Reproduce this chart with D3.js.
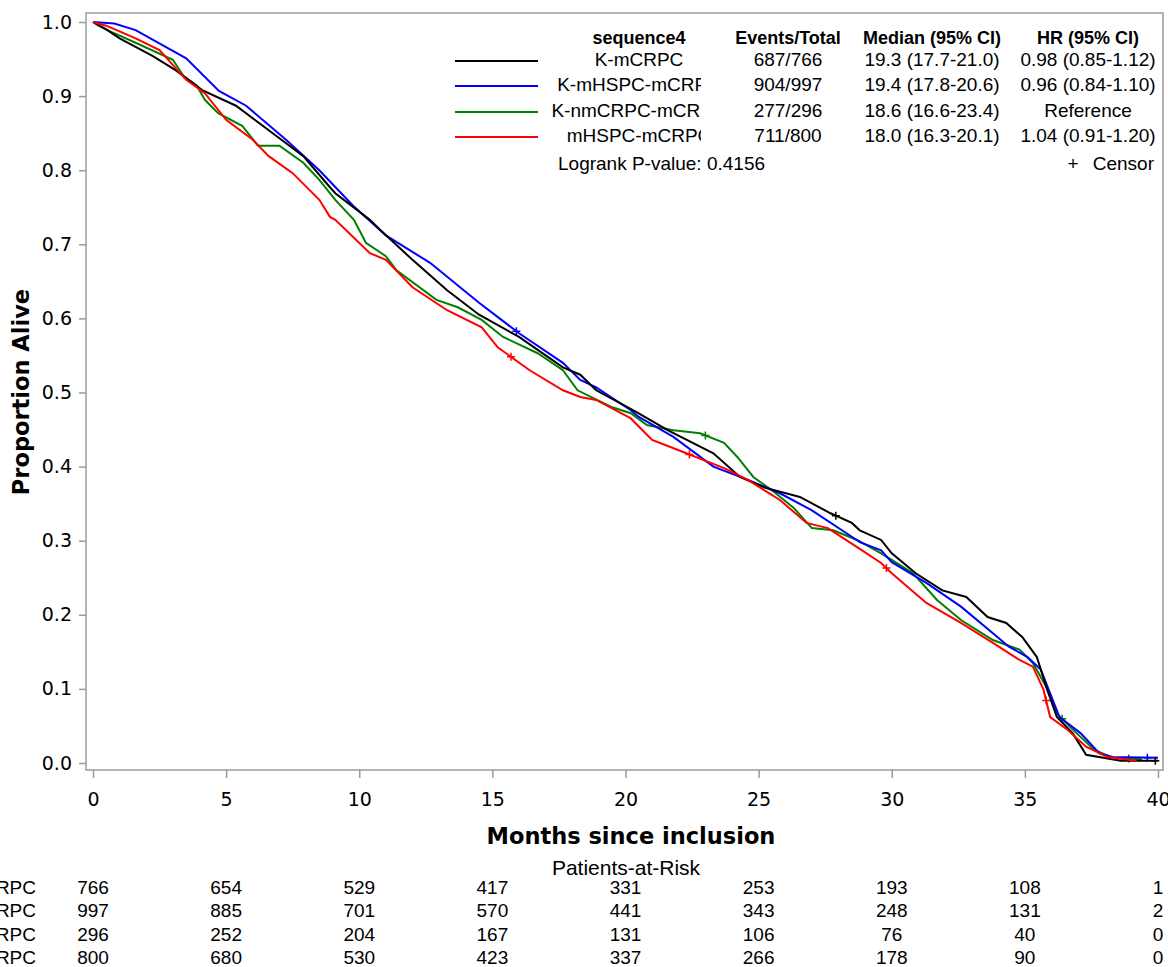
<!DOCTYPE html>
<html>
<head>
<meta charset="utf-8">
<script src="https://cdn.jsdelivr.net/npm/d3@7"></script>
<style>
  body { margin: 0; background: #fff; }
  svg { display: block; }
  .tick text { font-family: "DejaVu Sans", sans-serif; font-size: 19px; fill: #000; }
  .tick line { stroke: #9a9a9a; stroke-width: 1.5; }
  .legend text, .risk text { font-family: "Liberation Sans", Arial, sans-serif; font-size: 19px; fill: #000; }
</style>
</head>
<body>
<div id="chart"></div>
<script>
// groups and summary stats (legend)
const groups = ["K-mCRPC", "K-mHSPC-mCRPC", "K-nmCRPC-mCRPC", "mHSPC-mCRPC"];
const eventsTotal = ["687/766", "904/997", "277/296", "711/800"];
const medianCI = ["19.3 (17.7-21.0)", "19.4 (17.8-20.6)", "18.6 (16.6-23.4)", "18.0 (16.3-20.1)"];
const hrCI = ["0.98 (0.85-1.12)", "0.96 (0.84-1.10)", "Reference", "1.04 (0.91-1.20)"];
const logrankP = "0.4156";

// survival curves (months, proportion alive)
const kmcrpcT = [0, 0.5, 1.0, 2.25, 3.1, 4.1, 5.37, 6.6, 7.9, 8.9, 9.1, 10.4, 10.8, 12.0, 13.3, 14.5, 16.0, 17.65, 18.3, 18.9, 20.4, 21.6, 23.3, 24.3, 25.2, 26.55, 27.7, 28.5, 28.8, 29.6, 30.0, 30.9, 31.9, 32.8, 33.6, 34.3, 34.9, 35.45, 35.8, 36.2, 36.8, 37.3, 38.6, 40];
const kmcrpcS = [1.0, 0.99, 0.978, 0.954, 0.935, 0.908, 0.887, 0.854, 0.819, 0.777, 0.769, 0.733, 0.719, 0.679, 0.638, 0.605, 0.575, 0.534, 0.524, 0.503, 0.474, 0.449, 0.418, 0.386, 0.372, 0.359, 0.337, 0.324, 0.314, 0.301, 0.283, 0.256, 0.233, 0.224, 0.197, 0.189, 0.17, 0.143, 0.103, 0.062, 0.040, 0.011, 0.003, 0.003];

const kmhspcT = [0, 0.8, 1.6, 3.5, 4.73, 5.75, 7.25, 8.5, 9.77, 11.0, 12.66, 14.5, 16.0, 17.65, 18.3, 18.9, 20.2, 20.5, 21.8, 23.3, 24.6, 25.8, 27.0, 28.3, 28.8, 29.6, 30.0, 31.3, 32.6, 33.8, 34.4, 35.1, 35.6, 35.95, 36.3, 37.1, 37.8, 38.3, 40];
const kmhspcS = [1.0, 0.998, 0.989, 0.951, 0.907, 0.887, 0.841, 0.80, 0.752, 0.712, 0.675, 0.621, 0.580, 0.540, 0.517, 0.507, 0.476, 0.467, 0.44, 0.40, 0.382, 0.364, 0.341, 0.310, 0.298, 0.287, 0.271, 0.243, 0.211, 0.175, 0.157, 0.143, 0.126, 0.094, 0.062, 0.04, 0.013, 0.008, 0.007];

const knmcrpcT = [0, 0.2, 0.6, 1.6, 3.0, 3.4, 3.9, 4.2, 4.7, 5.6, 6.2, 7.0, 7.9, 8.5, 9.1, 9.8, 10.25, 11.0, 11.4, 12.9, 13.7, 14.6, 15.4, 16.7, 17.65, 18.2, 19.5, 20.2, 20.8, 21.8, 22.8, 23.7, 24.2, 24.8, 25.5, 26.3, 27.0, 27.8, 28.7, 29.6, 30.0, 30.8, 31.7, 32.6, 33.8, 34.8, 35.3, 35.8, 36.2, 36.8, 37.6, 38.3, 39.4];
const knmcrpcS = [1.0, 0.995, 0.988, 0.972, 0.949, 0.927, 0.914, 0.895, 0.877, 0.860, 0.833, 0.833, 0.810, 0.787, 0.76, 0.733, 0.702, 0.684, 0.665, 0.625, 0.615, 0.598, 0.575, 0.553, 0.53, 0.503, 0.48, 0.472, 0.456, 0.449, 0.445, 0.432, 0.413, 0.386, 0.368, 0.345, 0.317, 0.314, 0.301, 0.283, 0.274, 0.256, 0.22, 0.193, 0.166, 0.153, 0.135, 0.103, 0.067, 0.045, 0.018, 0.007, 0.005];

const mhspcT = [0, 0.5, 1.6, 2.5, 3.5, 4.2, 5.0, 6.0, 6.6, 7.5, 8.5, 8.9, 9.1, 10.4, 11.0, 12.0, 13.3, 14.6, 15.2, 16.4, 17.65, 18.3, 18.9, 20.2, 21.0, 22.0, 23.7, 24.6, 25.8, 26.8, 27.6, 28.8, 29.6, 30.0, 31.3, 32.6, 33.8, 34.8, 35.3, 35.7, 35.95, 36.6, 37.3, 38.1, 39.2];
const mhspcS = [1.0, 0.995, 0.978, 0.962, 0.922, 0.904, 0.868, 0.841, 0.819, 0.796, 0.760, 0.737, 0.733, 0.688, 0.679, 0.642, 0.611, 0.588, 0.561, 0.530, 0.503, 0.494, 0.49, 0.465, 0.436, 0.422, 0.398, 0.382, 0.355, 0.324, 0.317, 0.289, 0.27, 0.256, 0.216, 0.189, 0.162, 0.139, 0.13, 0.099, 0.062, 0.045, 0.022, 0.008, 0.003];

// censor marks (months)
const kmcrpcCens = [27.9, 39.9];
const kmhspcCens = [15.9, 39.6];
const knmcrpcCens = [23.0, 36.4, 38.9];
const mhspcCens = [15.7, 22.4, 29.8, 35.8];

// patients at risk
const riskTimes = [0, 5, 10, 15, 20, 25, 30, 35, 40];
const riskKmcrpc = [766, 654, 529, 417, 331, 253, 193, 108, 1];
const riskKmhspc = [997, 885, 701, 570, 441, 343, 248, 131, 2];
const riskKnmcrpc = [296, 252, 204, 167, 131, 106, 76, 40, 0];
const riskMhspc = [800, 680, 530, 423, 337, 266, 178, 90, 0];

const yTicks = [0, 0.1, 0.2, 0.3, 0.4, 0.5, 0.6, 0.7, 0.8, 0.9, 1.0];
const xTicks = [0, 5, 10, 15, 20, 25, 30, 35, 40];

const colors = ["#000000", "#0000ff", "#008000", "#ff0000"];

const width = 1168, height = 967;
const frame = { left: 86, top: 13, right: 1163, bottom: 770 };

const series = [
  { t: kmcrpcT, s: kmcrpcS, cens: kmcrpcCens, risk: riskKmcrpc },
  { t: kmhspcT, s: kmhspcS, cens: kmhspcCens, risk: riskKmhspc },
  { t: knmcrpcT, s: knmcrpcS, cens: knmcrpcCens, risk: riskKnmcrpc },
  { t: mhspcT, s: mhspcS, cens: mhspcCens, risk: riskMhspc }
];

const x = d3.scaleLinear().domain([0, 40]).range([93, 1158]);
const y = d3.scaleLinear().domain([0, 1]).range([763, 22]);

const svg = d3.select("#chart").append("svg")
  .attr("width", width)
  .attr("height", height);

// y axis
svg.append("g")
  .attr("transform", `translate(${frame.left},0)`)
  .call(d3.axisLeft(y).tickValues(yTicks).tickFormat(d3.format(".1f")).tickSize(7).tickPadding(7))
  .call(g => g.select(".domain").remove());

// x axis
svg.append("g")
  .attr("transform", `translate(0,${frame.bottom})`)
  .call(d3.axisBottom(x).tickValues(xTicks).tickFormat(d3.format("d")).tickSize(8).tickPadding(15))
  .call(g => g.select(".domain").remove());

// frame
svg.append("rect")
  .attr("x", frame.left)
  .attr("y", frame.top)
  .attr("width", frame.right - frame.left)
  .attr("height", frame.bottom - frame.top)
  .attr("fill", "none")
  .attr("stroke", "#9a9a9a")
  .attr("stroke-width", 1.5);

// curves
const line = d3.line()
  .x(d => x(d[0]))
  .y(d => y(d[1]))
  .curve(d3.curveLinear);

// draw green first so black/blue/red sit on top like the reference
const drawOrder = [2, 1, 0, 3];
drawOrder.forEach(i => {
  const s = series[i];
  const pts = s.t.map((t, j) => [t, s.s[j]]);
  svg.append("path")
    .datum(pts)
    .attr("d", line)
    .attr("fill", "none")
    .attr("stroke", colors[i])
    .attr("stroke-width", 2);

  // censor "+" marks, placed on the drawn curve
  const interp = t => {
    const k = d3.bisectRight(s.t, t);
    if (k <= 0) return s.s[0];
    if (k >= s.t.length) return s.s[s.t.length - 1];
    const f = (t - s.t[k - 1]) / (s.t[k] - s.t[k - 1]);
    return s.s[k - 1] + f * (s.s[k] - s.s[k - 1]);
  };
  svg.append("g").selectAll("path")
    .data(s.cens)
    .join("path")
    .attr("d", d => {
      const cx = x(d), cy = y(interp(d));
      return `M${cx - 4},${cy}H${cx + 4}M${cx},${cy - 4}V${cy + 4}`;
    })
    .attr("stroke", colors[i])
    .attr("stroke-width", 1.5);
});

// axis titles
svg.append("text")
  .attr("x", 631)
  .attr("y", 844)
  .attr("text-anchor", "middle")
  .style("font-family", "'DejaVu Sans', sans-serif")
  .style("font-weight", "bold")
  .style("font-size", "22.5px")
  .text("Months since inclusion");

svg.append("text")
  .attr("transform", "translate(29,392) rotate(-90)")
  .attr("text-anchor", "middle")
  .style("font-family", "'DejaVu Sans', sans-serif")
  .style("font-weight", "bold")
  .style("font-size", "22.5px")
  .text("Proportion Alive");

// legend table
const legend = svg.append("g").attr("class", "legend");
const cols = { label: 639, events: 788, median: 932, hr: 1088 };
const headerY = 44;
const rowY = [66, 91, 117, 142];

svg.append("clipPath").attr("id", "labelClip")
  .append("rect").attr("x", 540).attr("y", 0).attr("width", 161).attr("height", 200);

legend.selectAll(".hdr")
  .data([["sequence4", cols.label], ["Events/Total", cols.events], ["Median (95% CI)", cols.median], ["HR (95% CI)", cols.hr]])
  .join("text")
  .attr("x", d => d[1])
  .attr("y", headerY)
  .attr("text-anchor", "middle")
  .style("font-weight", "bold")
  .style("font-size", "18px")
  .text(d => d[0]);

groups.forEach((g, i) => {
  legend.append("line")
    .attr("x1", 455).attr("x2", 538)
    .attr("y1", rowY[i] - 5).attr("y2", rowY[i] - 5)
    .attr("stroke", colors[i])
    .attr("stroke-width", 2);
  legend.append("text")
    .attr("x", cols.label).attr("y", rowY[i])
    .attr("text-anchor", "middle")
    .attr("clip-path", "url(#labelClip)")
    .text(g);
  legend.append("text")
    .attr("x", cols.events).attr("y", rowY[i])
    .attr("text-anchor", "middle")
    .text(eventsTotal[i]);
  legend.append("text")
    .attr("x", cols.median).attr("y", rowY[i])
    .attr("text-anchor", "middle")
    .text(medianCI[i]);
  legend.append("text")
    .attr("x", cols.hr).attr("y", rowY[i])
    .attr("text-anchor", "middle")
    .text(hrCI[i]);
});

legend.append("text")
  .attr("x", 558).attr("y", 170)
  .text("Logrank P-value: " + logrankP);
legend.append("text")
  .attr("x", 1073).attr("y", 170)
  .attr("text-anchor", "middle")
  .text("+");
legend.append("text")
  .attr("x", 1154).attr("y", 170)
  .attr("text-anchor", "end")
  .text("Censor");

// patients-at-risk table
const risk = svg.append("g").attr("class", "risk");
risk.append("text")
  .attr("x", 626).attr("y", 875)
  .attr("text-anchor", "middle")
  .style("font-size", "21px")
  .text("Patients-at-Risk");

svg.append("clipPath").attr("id", "riskClip")
  .append("rect").attr("x", 0).attr("y", 860).attr("width", 37).attr("height", 120);

const riskRowY = [894, 917, 941, 964];
series.forEach((s, i) => {
  risk.append("text")
    .attr("x", 36).attr("y", riskRowY[i])
    .attr("text-anchor", "end")
    .attr("clip-path", "url(#riskClip)")
    .text(groups[i]);
  risk.append("g").selectAll("text")
    .data(s.risk)
    .join("text")
    .attr("x", (d, j) => x(riskTimes[j]))
    .attr("y", riskRowY[i])
    .attr("text-anchor", "middle")
    .text(d => d);
});
</script>
</body>
</html>
